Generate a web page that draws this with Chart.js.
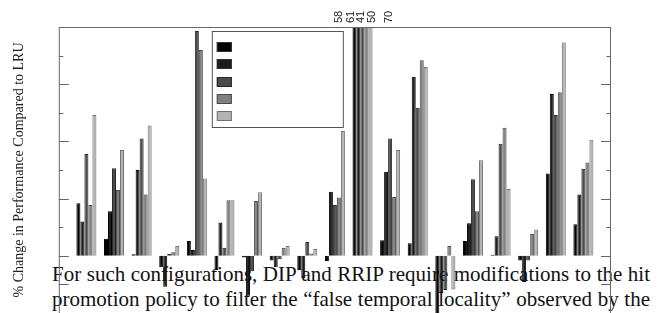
<!DOCTYPE html>
<html>
<head>
<meta charset="utf-8">
<script src="https://cdn.jsdelivr.net/npm/chart.js@4.4.1/dist/chart.umd.min.js"></script>
<style>
  html, body { margin: 0; padding: 0; background: #fff; }
  #wrap { position: relative; width: 665px; height: 313px; overflow: hidden; }
  #para { position: absolute; left: 52px; top: 262px; width: 598px;
          font: 21px/25px "Liberation Serif", "Times New Roman", serif; color: #111; }
  #para div { text-align: justify; text-align-last: justify; white-space: nowrap; }
  canvas { position: absolute; left: 0; top: 0; }
</style>
</head>
<body>
<div id="wrap">
  <div id="para">
    <div>For such configurations, DIP and RRIP require modifications to the hit</div>
    <div>promotion policy to filter the “false temporal locality” observed by the</div>
  </div>
  <canvas id="perfChart" width="665" height="313"></canvas>
</div>
<script>
// workloads (no names printed in the figure)
const categories = ["1", "2", "3", "4", "5", "6", "7", "8", "9", "10",
  "11", "12", "13", "14", "15", "16", "17", "18", "19"];

// % change vs LRU, one array per policy (legend labels missing in the figure)
const series1 = [9.2, 3.0, 0.25, -2.0, 2.6, -2.5, -0.3, -0.8, -2.5, -0.9, 58, 2.7, 2.2, -10.5, 2.6, 0.2, -0.8, 14.4, 5.5];
const series2 = [6.0, 7.8, 15.0, -5.4, 1.0, 5.8, -7.0, -2.0, -3.9, 11.2, 61, 14.7, 31.3, -6.5, 5.7, 3.4, -4.6, 28.3, 10.7];
const series3 = [17.8, 15.3, 20.5, 0.3, 39.3, 1.4, -2.7, -0.6, 2.4, 8.9, 41, 20.5, 25.9, -6.0, 13.4, 19.6, -0.8, 24.6, 15.2];
const series4 = [8.9, 11.5, 10.7, 0.6, 36.0, 9.7, 9.6, 1.4, 0.4, 10.2, 50, 10.3, 34.2, 1.7, 7.8, 22.4, 3.8, 28.6, 16.3];
const series5 = [24.6, 18.5, 22.8, 1.7, 13.5, 9.7, 11.1, 1.7, 1.2, 21.8, 70, 18.5, 33.0, -5.9, 16.7, 11.7, 4.6, 37.3, 20.3];

const yMin = -10;
const yMax = 40;
const yStep = 5;

const allSeries = [series1, series2, series3, series4, series5];
const fills = ["#000000", "#1c1c1c", "#4b4b4b", "#808080", "#b3b3b3"];
const edges = ["#000000", "#000000", "#262626", "#4a4a4a", "#707070"];

// empty slot at each end, like the original histogram
const labels = ["", ...categories, ""];
const pad = (arr) => [null, ...arr, null];

// ticks, frame, off-scale values and the (label-less) key
const framePlugin = {
  id: "frame",
  afterDatasetsDraw(chart) {
    const { ctx, chartArea: a, scales } = chart;
    const y = scales.y;
    const x = scales.x;
    ctx.save();

    ctx.strokeStyle = "#666";
    ctx.lineWidth = 1;
    ctx.beginPath();
    ctx.moveTo(a.left + 0.5, a.bottom);
    ctx.lineTo(a.left + 0.5, a.top + 0.5);
    ctx.lineTo(a.right - 0.5, a.top + 0.5);
    ctx.lineTo(a.right - 0.5, a.bottom);
    ctx.stroke();

    ctx.beginPath();
    for (let v = yMin; v <= yMax; v += yStep) {
      const py = Math.round(y.getPixelForValue(v)) + 0.5;
      const len = (v % 10 === 0 || v < 0) ? 10 : 4.5;
      ctx.moveTo(a.left, py);
      ctx.lineTo(a.left + len, py);
      ctx.moveTo(a.right - len, py);
      ctx.lineTo(a.right, py);
    }
    ctx.stroke();

    // values of bars that run off the top
    const offsets = [-23.5, -11.5, -1.5, 9.5, 26.5];
    ctx.fillStyle = "#222";
    ctx.font = "11px 'Liberation Sans', Arial, sans-serif";
    ctx.textAlign = "left";
    ctx.textBaseline = "middle";
    categories.forEach((c, i) => {
      allSeries.forEach((s, k) => {
        if (s[i] > yMax) {
          const px = x.getPixelForValue(i + 1) + offsets[k];
          ctx.save();
          ctx.translate(px, a.top - 4);
          ctx.rotate(-Math.PI / 2);
          ctx.fillText(String(s[i]), 0, 0);
          ctx.restore();
        }
      });
    });

    // key box
    const bx = a.left + 153, by = a.top + 4, bw = 131, bh = 96;
    ctx.fillStyle = "#fff";
    ctx.fillRect(bx, by, bw, bh);
    ctx.strokeStyle = "#555";
    ctx.strokeRect(bx + 0.5, by + 0.5, bw, bh);
    fills.forEach((f, k) => {
      const sy = Math.round(by + 11 + k * 17.3);
      ctx.fillStyle = f;
      ctx.fillRect(bx + 5, sy, 15, 10);
      ctx.strokeStyle = edges[k] === "#000000" ? "#333" : edges[k];
      ctx.strokeRect(bx + 5.5, sy + 0.5, 14, 9);
    });
    ctx.restore();
  },
};

const ctxPerf = document.getElementById("perfChart").getContext("2d");
const perfChart = new Chart(ctxPerf, {
  type: "bar",
  data: {
    labels: labels,
    datasets: allSeries.map((s, k) => ({
      label: "",
      data: pad(s),
      backgroundColor: fills[k],
      borderColor: edges[k],
      borderWidth: 1,
      barPercentage: 1.0,
      categoryPercentage: 0.725,
      clip: 0,
    })),
  },
  options: {
    responsive: false,
    animation: false,
    events: [],
    layout: { padding: { top: 27, right: 54, bottom: 0, left: 0 } },
    scales: {
      x: {
        display: false,
        offset: false,
      },
      y: {
        min: yMin,
        max: yMax,
        ticks: { display: false, stepSize: yStep },
        grid: { display: false, drawTicks: false },
        border: { display: false },
        title: {
          display: true,
          text: "% Change in Performance Compared to LRU",
          color: "#222",
          font: { family: "'Liberation Serif', 'Times New Roman', serif", size: 14 },
          padding: { top: 11, bottom: 31 },
        },
      },
    },
    plugins: {
      legend: { display: false },
      tooltip: { enabled: false },
    },
  },
  plugins: [framePlugin],
});
</script>
</body>
</html>
